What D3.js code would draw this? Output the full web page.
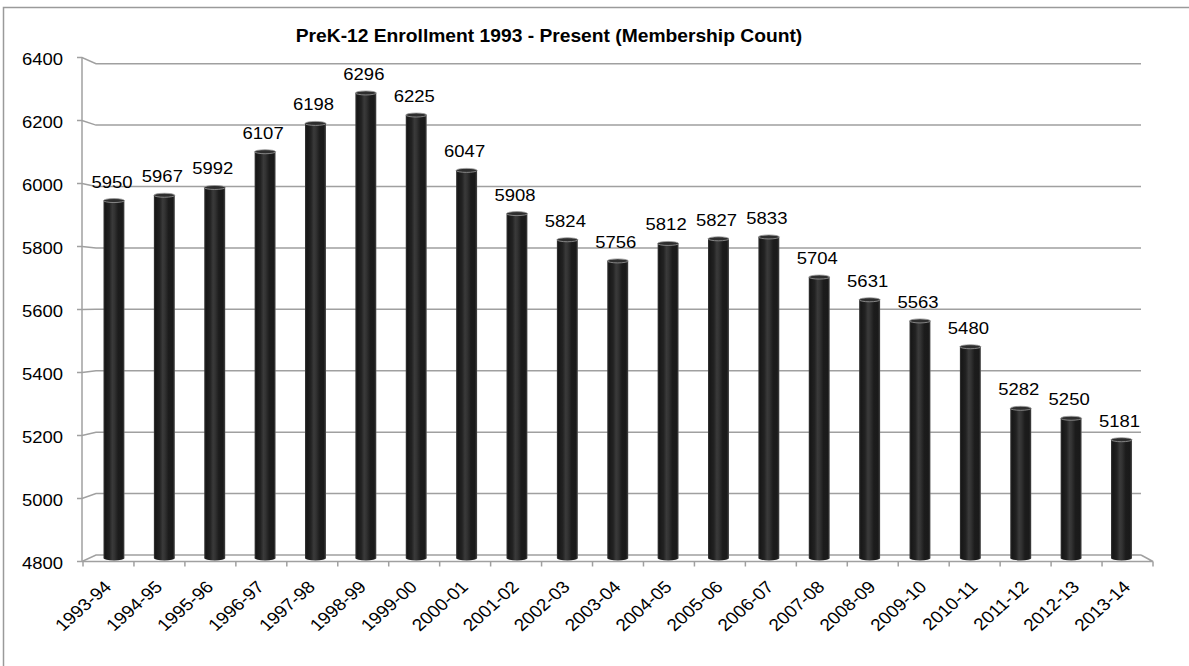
<!DOCTYPE html>
<html>
<head>
<meta charset="utf-8">
<script src="https://cdn.jsdelivr.net/npm/d3@7/dist/d3.min.js"></script>
<style>
  html, body { margin: 0; padding: 0; background: #fff; }
  svg { display: block; }
  text { font-family: "Liberation Sans", Arial, sans-serif; fill: #000; }
</style>
</head>
<body>
<svg id="chart" width="1189" height="666"></svg>
<script>
// School years and PreK-12 membership counts
const years = ["1993-94","1994-95","1995-96","1996-97","1997-98","1998-99","1999-00",
  "2000-01","2001-02","2002-03","2003-04","2004-05","2005-06","2006-07","2007-08",
  "2008-09","2009-10","2010-11","2011-12","2012-13","2013-14"];
const enrollment = [5950,5967,5992,6107,6198,6296,6225,6047,5908,5824,5756,5812,
  5827,5833,5704,5631,5563,5480,5282,5250,5181];
const yTicks = [4800,5000,5200,5400,5600,5800,6000,6200,6400];
const titleText = "PreK-12 Enrollment 1993 - Present (Membership Count)";

const svg = d3.select("#chart");
const W = 1189, H = 666;
const sx = 1.12; // horizontal text stretch

svg.append("rect").attr("width", W).attr("height", H).attr("fill", "#fff");

// chart area frame
svg.append("path")
  .attr("d", `M3.5,${H} V7.5 H${W}`)
  .attr("fill", "none").attr("stroke", "#9a9a9a").attr("stroke-width", 1.5);

// 3D box geometry: front (left wall edge) and back wall scales
const wallX = 82, backX = 96, backRight = 1141, floorRight = 1153;
const yFront = d3.scaleLinear().domain([4800, 6400]).range([561.5, 57.5]);
const yBack  = d3.scaleLinear().domain([4800, 6400]).range([555, 63.7]);
const yBar   = d3.scaleLinear().domain([4800, 6400]).range([558.2, 60.6]);

const xAxis = d3.scaleBand().domain(years).range([83, floorRight]);
const xBar  = d3.scaleBand().domain(years).range([88.8, 1146.7]);
const barW = 21;

const gridColor = "#a0a0a0";

// gridlines with the receding segment back to the wall
const grid = svg.append("g");
grid.selectAll("path").data(yTicks).join("path")
  .attr("d", d => `M${wallX - 5},${yFront(d)} H${wallX} L${backX},${yBack(d)} H${backRight}`)
  .attr("fill", "none").attr("stroke", gridColor).attr("stroke-width", 1.5);

// left wall edge
svg.append("line")
  .attr("x1", wallX).attr("x2", wallX)
  .attr("y1", yFront(6400)).attr("y2", yFront(4800))
  .attr("stroke", gridColor).attr("stroke-width", 1.5);

// floor front edge and right side
svg.append("path")
  .attr("d", `M${wallX},${yFront(4800)} H${floorRight} L${backRight},${yBack(4800)}`)
  .attr("fill", "none").attr("stroke", gridColor).attr("stroke-width", 1.5);

// category tick marks
const bounds = years.map(y => xAxis(y)).concat([xAxis.range()[1]]);
svg.append("g").selectAll("line").data(bounds).join("line")
  .attr("x1", d => d).attr("x2", d => d)
  .attr("y1", yFront(4800)).attr("y2", yFront(4800) + 5)
  .attr("stroke", gridColor).attr("stroke-width", 1.5);

// y-axis labels
svg.append("g").selectAll("text").data(yTicks).join("text")
  .attr("transform", d => `translate(63,${yFront(d) + 7.8}) scale(${sx},1)`)
  .attr("text-anchor", "end")
  .style("font-size", "16.5px")
  .text(d => d);

// cylinder shading
const defs = svg.append("defs");
const grad = defs.append("linearGradient").attr("id", "barGrad")
  .attr("x1", "0%").attr("x2", "100%").attr("y1", "0%").attr("y2", "0%");
[[0, "#3a3a3a"], [0.08, "#171717"], [0.28, "#222"], [0.42, "#3a3a3a"], [0.52, "#333"],
 [0.7, "#1c1c1c"], [0.9, "#1a1a1a"], [0.97, "#3a3a3a"], [1, "#6a6a6a"]]
  .forEach(([o, c]) => grad.append("stop").attr("offset", o).attr("stop-color", c));

const bars = svg.append("g").selectAll("g").data(years.map((y, i) => ({ y, v: enrollment[i] })))
  .join("g");

bars.append("ellipse")
  .attr("cx", d => xBar(d.y) + xBar.bandwidth() / 2)
  .attr("cy", yBar(4800))
  .attr("rx", barW / 2).attr("ry", 2.2)
  .attr("fill", "url(#barGrad)");

bars.append("rect")
  .attr("x", d => xBar(d.y) + xBar.bandwidth() / 2 - barW / 2)
  .attr("width", barW)
  .attr("y", d => yBar(d.v))
  .attr("height", d => yBar(4800) - yBar(d.v))
  .attr("fill", "url(#barGrad)");

bars.append("ellipse")
  .attr("cx", d => xBar(d.y) + xBar.bandwidth() / 2)
  .attr("cy", d => yBar(d.v))
  .attr("rx", barW / 2).attr("ry", 2)
  .attr("fill", "#2e2e2e").attr("stroke", "#9a9a9a").attr("stroke-width", 0.8);

// value labels
bars.append("text")
  .attr("transform", d => `translate(${xBar(d.y) + xBar.bandwidth() / 2 - 2},${yBar(d.v) - 13}) scale(${sx},1)`)
  .attr("text-anchor", "middle")
  .style("font-size", "16.5px")
  .text(d => d.v);

// category labels
svg.append("g").selectAll("text").data(years).join("text")
  .attr("transform", d => `translate(${xAxis(d) + xAxis.bandwidth() / 2 + 4},${588}) scale(${sx},1) rotate(-45)`)
  .attr("text-anchor", "end")
  .style("font-size", "17px")
  .text(d => d);

// title
svg.append("text")
  .attr("transform", `translate(549,42) scale(1.1,1)`)
  .attr("text-anchor", "middle")
  .style("font-size", "17.5px").style("font-weight", "bold")
  .text(titleText);
</script>
</body>
</html>
